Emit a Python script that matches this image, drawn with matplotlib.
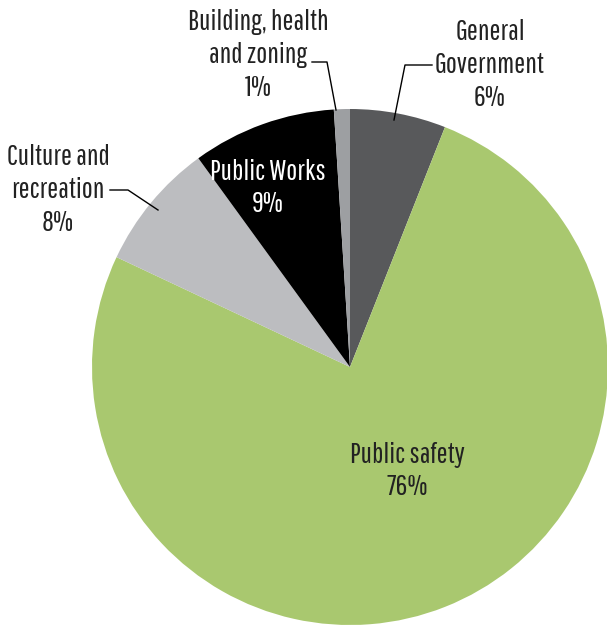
import matplotlib
matplotlib.use("Agg")
import matplotlib.pyplot as plt

# Spending shares by department (percent)
categories = ["General\nGovernment", "Public safety", "Culture and\nrecreation",
              "Public Works", "Building, health\nand zoning"]
shares = [6, 76, 8, 9, 1]
colors = ["#58595b", "#a9c86f", "#bcbdc0", "#000000", "#9d9fa2"]

plt.rcParams["font.family"] = ["Pathway Gothic One", "DejaVu Sans"]

fig = plt.figure(figsize=(6.07, 6.25), dpi=100)
ax = fig.add_axes([0, 0, 1, 1])

cx, cy, r = 350, 258, 258
ax.pie(shares, colors=colors, startangle=90, counterclock=False,
       center=(cx, cy), radius=r, frame=True,
       wedgeprops=dict(linewidth=0))
ax.set_xlim(0, 607)
ax.set_ylim(0, 625)
ax.set_aspect("equal")
ax.axis("off")

fs = 21
ls = 1.32
lab = [f"{c}\n{s}%" for c, s in zip(categories, shares)]

# labels inside the big slices
ax.text(407, 625 - 471, lab[1], ha="center", va="center", fontsize=fs,
        color="#222222", linespacing=ls)
ax.text(268, 625 - 188, lab[3], ha="center", va="center", fontsize=fs,
        color="white", linespacing=ls)

# outside labels with leader lines
ax.text(490, 625 - 65, lab[0], ha="center", va="center", fontsize=fs,
        color="#222222", linespacing=ls)
ax.plot([432, 405, 394], [625 - 65, 625 - 65, 625 - 120], color="black", lw=1)

ax.text(258, 625 - 55, lab[4], ha="center", va="center", fontsize=fs,
        color="#222222", linespacing=ls)
ax.plot([312, 327, 336], [625 - 62, 625 - 62, 625 - 110], color="black", lw=1)

ax.text(58, 625 - 190, lab[2], ha="center", va="center", fontsize=fs,
        color="#222222", linespacing=ls)
ax.plot([110, 128, 158], [625 - 190, 625 - 190, 625 - 210], color="black", lw=1)

fig.savefig("out.png", dpi=100)
